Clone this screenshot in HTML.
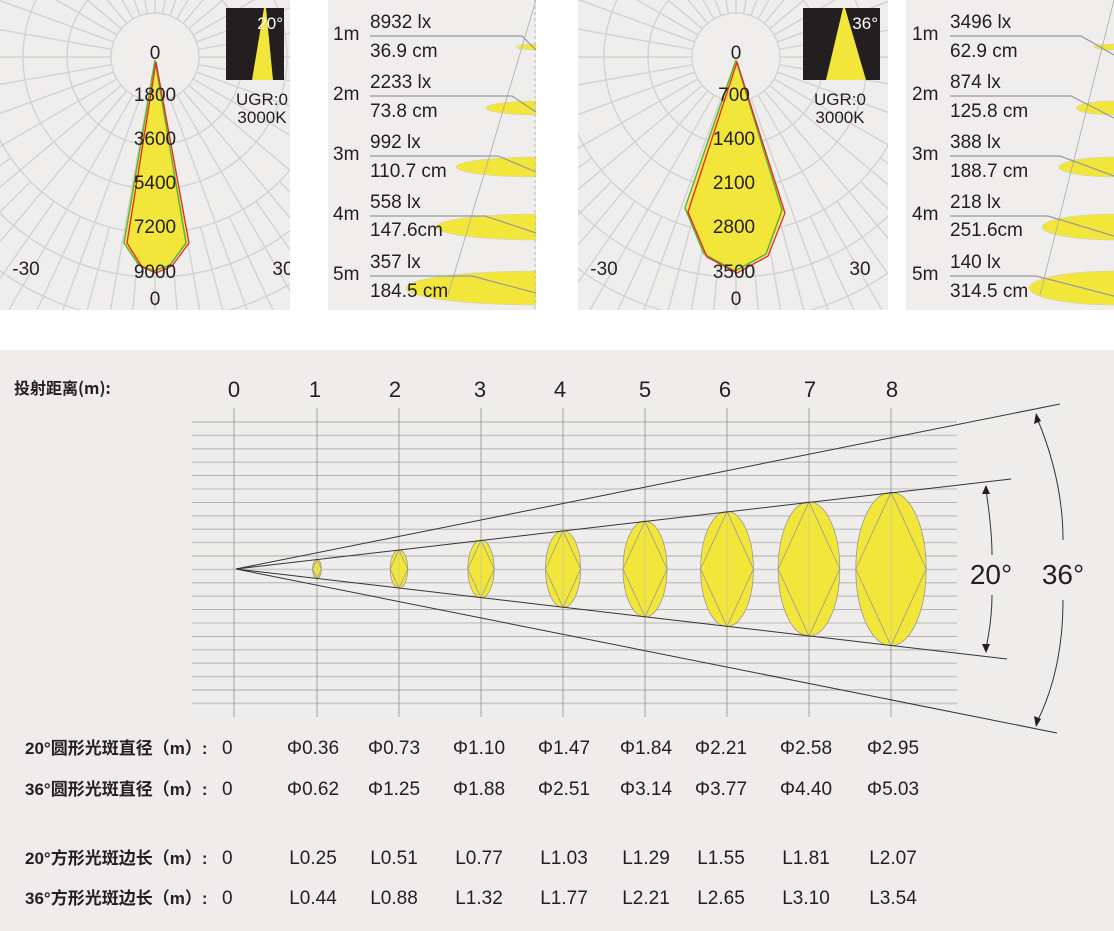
<!DOCTYPE html>
<html><head><meta charset="utf-8"><style>
html,body{margin:0;padding:0;background:#fff}
svg{display:block}
text{font-family:"Liberation Sans","Noto Sans CJK SC",sans-serif;fill:#231f20}
.c{font-family:"Noto Sans CJK SC","Liberation Sans",sans-serif}
</style></head><body>
<svg id="s" width="1114" height="931" viewBox="0 0 1114 931" xmlns="http://www.w3.org/2000/svg">
<defs>
<clipPath id="p1"><rect x="0" y="0" width="290" height="310"/></clipPath>
<clipPath id="p2"><rect x="328" y="0" width="208" height="310"/></clipPath>
<clipPath id="p3"><rect x="578" y="0" width="310" height="310"/></clipPath>
<clipPath id="p4"><rect x="906" y="0" width="208" height="310"/></clipPath>
</defs>
<rect x="0" y="0" width="290" height="310" fill="#efeeed"/>
<rect x="328" y="0" width="208" height="310" fill="#efeeed"/>
<rect x="578" y="0" width="310" height="310" fill="#efeeed"/>
<rect x="906" y="0" width="208" height="310" fill="#efeeed"/>
<rect x="0" y="350" width="1114" height="581" fill="#eeedec"/>
<g id="polar1" clip-path="url(#p1)"></g>
<g id="polar2" clip-path="url(#p3)"></g>

<g clip-path="url(#p1)">
<polygon points="155,60 125,243 140,266 155,272 170,266 188,243" fill="#f3e63a"/>
<polyline points="155,60 124,243 139,265 154,271 170,265 186,243 155,60" fill="none" stroke="#5bb534" stroke-width="1.5"/>
<polyline points="156,62 127,243 142,267 156,273 172,266 189,243 156,62" fill="none" stroke="#e8242a" stroke-width="1.3"/>
<g font-size="19" text-anchor="middle">
<text x="155" y="59">0</text><text x="155" y="101">1800</text><text x="155" y="145">3600</text>
<text x="155" y="189">5400</text><text x="155" y="233">7200</text><text x="155" y="278">9000</text>
<text x="155" y="305">0</text><text x="26" y="275">-30</text><text x="283" y="275">30</text>
</g>
<rect x="226" y="8" width="58" height="72" fill="#231f20"/>
<polygon points="264,8 266,8 273,80 252,80" fill="#f3e63a"/>
<text x="283" y="29" font-size="17" text-anchor="end" style="fill:#fff">20°</text>
<text x="262" y="105" font-size="17" text-anchor="middle">UGR:0</text>
<text x="262" y="123" font-size="17" text-anchor="middle">3000K</text>
</g>
<g clip-path="url(#p3)">
<polygon points="736,60 686,210 705,255 736,272 767,255 784,212" fill="#f3e63a"/>
<polyline points="736,60 685,208 704,254 735,271 766,254 782,210 736,60" fill="none" stroke="#5bb534" stroke-width="1.5"/>
<polyline points="737,62 688,212 707,257 737,273 768,256 785,213 737,62" fill="none" stroke="#e8242a" stroke-width="1.3"/>
<g font-size="19" text-anchor="middle">
<text x="736" y="59">0</text><text x="734" y="101">700</text><text x="734" y="145">1400</text>
<text x="734" y="189">2100</text><text x="734" y="233">2800</text><text x="734" y="278">3500</text>
<text x="736" y="305">0</text><text x="604" y="275">-30</text><text x="860" y="275">30</text>
</g>
<rect x="803" y="8" width="77" height="72" fill="#231f20"/>
<polygon points="843,8 845,8 866,80 826,80" fill="#f3e63a"/>
<text x="878" y="29" font-size="17" text-anchor="end" style="fill:#fff">36°</text>
<text x="840" y="105" font-size="17" text-anchor="middle">UGR:0</text>
<text x="840" y="123" font-size="17" text-anchor="middle">3000K</text>
</g>
<g clip-path="url(#p2)">
<ellipse cx="536" cy="47" rx="20" ry="3" fill="#f3e63a" stroke="#ccc" stroke-width="0.5"/>
<ellipse cx="536" cy="108" rx="50" ry="7" fill="#f3e63a" stroke="#ccc" stroke-width="0.5"/>
<ellipse cx="536" cy="167" rx="80" ry="10" fill="#f3e63a" stroke="#ccc" stroke-width="0.5"/>
<ellipse cx="536" cy="227" rx="100" ry="13" fill="#f3e63a" stroke="#ccc" stroke-width="0.5"/>
<ellipse cx="536" cy="288" rx="130" ry="17" fill="#f3e63a" stroke="#ccc" stroke-width="0.5"/>
<line x1="536" y1="0" x2="448" y2="295" stroke="#aaa" stroke-width="0.8"/>
<line x1="535" y1="0" x2="535" y2="310" stroke="#bbb" stroke-dasharray="3,3"/>
<g stroke="#999" stroke-width="1.2" fill="none">
<polyline points="370,36 522,36 536,50"/><polyline points="370,96 512,96 536,112"/>
<polyline points="370,156 498,156 536,172"/><polyline points="370,216 485,216 536,233"/>
<polyline points="370,276 472,276 536,293"/>
</g>
<g font-size="19"><text x="333" y="40">1m</text><text x="333" y="100">2m</text><text x="333" y="160">3m</text><text x="333" y="220">4m</text><text x="333" y="280">5m</text>
<text x="370" y="28">8932 lx</text><text x="370" y="57">36.9 cm</text>
<text x="370" y="88">2233 lx</text><text x="370" y="117">73.8 cm</text>
<text x="370" y="148">992 lx</text><text x="370" y="177">110.7 cm</text>
<text x="370" y="208">558 lx</text><text x="370" y="236">147.6cm</text>
<text x="370" y="268">357 lx</text><text x="370" y="297">184.5 cm</text></g>
</g>
<g clip-path="url(#p4)">
<ellipse cx="1114" cy="47" rx="20" ry="3" fill="#f3e63a" stroke="#ccc" stroke-width="0.5"/>
<ellipse cx="1114" cy="108" rx="38" ry="7" fill="#f3e63a" stroke="#ccc" stroke-width="0.5"/>
<ellipse cx="1114" cy="167" rx="55" ry="10" fill="#f3e63a" stroke="#ccc" stroke-width="0.5"/>
<ellipse cx="1114" cy="227" rx="72" ry="13" fill="#f3e63a" stroke="#ccc" stroke-width="0.5"/>
<ellipse cx="1114" cy="288" rx="85" ry="17" fill="#f3e63a" stroke="#ccc" stroke-width="0.5"/>
<line x1="1114" y1="0" x2="1040" y2="295" stroke="#aaa" stroke-width="0.8"/>
<g stroke="#999" stroke-width="1.2" fill="none">
<polyline points="950,36 1081,36 1114,55"/><polyline points="950,96 1071,96 1114,118"/>
<polyline points="950,156 1060,156 1114,176"/><polyline points="950,216 1048,216 1114,236"/>
<polyline points="950,276 1036,276 1114,296"/>
</g>
<g font-size="19"><text x="912" y="40">1m</text><text x="912" y="100">2m</text><text x="912" y="160">3m</text><text x="912" y="220">4m</text><text x="912" y="280">5m</text>
<text x="950" y="28">3496 lx</text><text x="950" y="57">62.9 cm</text>
<text x="950" y="88">874 lx</text><text x="950" y="117">125.8 cm</text>
<text x="950" y="148">388 lx</text><text x="950" y="177">188.7 cm</text>
<text x="950" y="208">218 lx</text><text x="950" y="236">251.6cm</text>
<text x="950" y="268">140 lx</text><text x="950" y="297">314.5 cm</text></g>
</g>

<text x="14" y="394" font-size="16" font-weight="bold" class="c">投射距离(m):</text>
<g font-size="22" text-anchor="middle">
<text x="234" y="397">0</text><text x="315" y="397">1</text><text x="395" y="397">2</text><text x="480" y="397">3</text><text x="560" y="397">4</text><text x="645" y="397">5</text><text x="725" y="397">6</text><text x="810" y="397">7</text><text x="892" y="397">8</text>
</g>
<g id="grid"></g>
<g id="ell"></g>
<g stroke="#333" stroke-width="1" fill="none">
<line x1="236" y1="569" x2="1060" y2="404"/><line x1="236" y1="569" x2="1057" y2="733"/>
<line x1="236" y1="569" x2="1011" y2="479"/><line x1="236" y1="569" x2="1007" y2="659"/>
<path d="M986,490 Q992,530 992,555"/><path d="M992,595 Q992,620 986,648"/>
<path d="M1037,418 Q1063,480 1063,540"/><path d="M1063,600 Q1063,670 1037,722"/>
</g>
<g fill="#231f20">
<polygon points="986,485 982,494 990,494"/><polygon points="986,653 982,644 990,644"/>
<polygon points="1036,413 1034,424 1041,421"/><polygon points="1036,727 1034,716 1041,719"/>
</g>
<text x="991" y="584" font-size="28" text-anchor="middle">20°</text>
<text x="1063" y="584" font-size="28" text-anchor="middle">36°</text>

<g font-size="17" font-weight="bold" class="c">
<text x="25" y="754">20°圆形光斑直径（m）:</text>
<text x="25" y="795">36°圆形光斑直径（m）:</text>
<text x="25" y="864">20°方形光斑边长（m）:</text>
<text x="25" y="904">36°方形光斑边长（m）:</text>
</g>
<g font-size="19">
<text x="222" y="754">0</text><text x="222" y="795">0</text><text x="222" y="864">0</text><text x="222" y="904">0</text>
</g>
<g font-size="19" text-anchor="middle">
<text x="313" y="754">Φ0.36</text><text x="394" y="754">Φ0.73</text><text x="479" y="754">Φ1.10</text><text x="564" y="754">Φ1.47</text><text x="646" y="754">Φ1.84</text><text x="721" y="754">Φ2.21</text><text x="806" y="754">Φ2.58</text><text x="893" y="754">Φ2.95</text>
<text x="313" y="795">Φ0.62</text><text x="394" y="795">Φ1.25</text><text x="479" y="795">Φ1.88</text><text x="564" y="795">Φ2.51</text><text x="646" y="795">Φ3.14</text><text x="721" y="795">Φ3.77</text><text x="806" y="795">Φ4.40</text><text x="893" y="795">Φ5.03</text>
<text x="313" y="864">L0.25</text><text x="394" y="864">L0.51</text><text x="479" y="864">L0.77</text><text x="564" y="864">L1.03</text><text x="646" y="864">L1.29</text><text x="721" y="864">L1.55</text><text x="806" y="864">L1.81</text><text x="893" y="864">L2.07</text>
<text x="313" y="904">L0.44</text><text x="394" y="904">L0.88</text><text x="479" y="904">L1.32</text><text x="564" y="904">L1.77</text><text x="646" y="904">L2.21</text><text x="721" y="904">L2.65</text><text x="806" y="904">L3.10</text><text x="893" y="904">L3.54</text>
</g>
</svg>
<script>
var NS="http://www.w3.org/2000/svg";
function el(p,t,a){var e=document.createElementNS(NS,t);for(var k in a)e.setAttribute(k,a[k]);p.appendChild(e);return e;}
function polar(id,cx,cy){var g=document.getElementById(id);
 for(var a=0;a<360;a+=5){var r=a*Math.PI/180;var r0=44;if(a%10!==0)r0=176;
  el(g,"line",{x1:cx+r0*Math.sin(r),y1:cy+r0*Math.cos(r),x2:cx+420*Math.sin(r),y2:cy+420*Math.cos(r),stroke:"#d2d2d2","stroke-width":1.4});}
 for(var i=1;i<=7;i++)el(g,"circle",{cx:cx,cy:cy,r:44*i,fill:"none",stroke:"#d2d2d2","stroke-width":1.4});
 el(g,"circle",{cx:cx,cy:cy,r:43,fill:"#efeeed"});
}
polar("polar1",155,57);polar("polar2",736,57);
var gr=document.getElementById("grid");
for(var i=0;i<22;i++){var y=422+i*13.4;el(gr,"line",{x1:192,y1:y,x2:957,y2:y,stroke:(i%2?"#c9c9c9":"#aaa"),"stroke-width":(i%2?1.6:0.9)});}
var xs=[234,317,399,481,563,645,727,809,891];
xs.forEach(function(x){el(gr,"line",{x1:x,y1:408,x2:x,y2:717,stroke:"#999","stroke-width":0.9});});
var ge=document.getElementById("ell");
for(var d=1;d<=8;d++){var x=xs[d],rx=4.4*d,ry=9.6*d;
 el(ge,"ellipse",{cx:x,cy:569,rx:rx,ry:ry,fill:"#f3e63a",stroke:"#999","stroke-width":0.8});
 el(ge,"polygon",{points:(x)+","+(569-ry)+" "+(x+rx)+",569 "+x+","+(569+ry)+" "+(x-rx)+",569",fill:"none",stroke:"#999","stroke-width":0.8});
 el(ge,"line",{x1:x,y1:569-ry,x2:x,y2:569+ry,stroke:"#bbb","stroke-width":0.6});}
</script>
</body></html>
